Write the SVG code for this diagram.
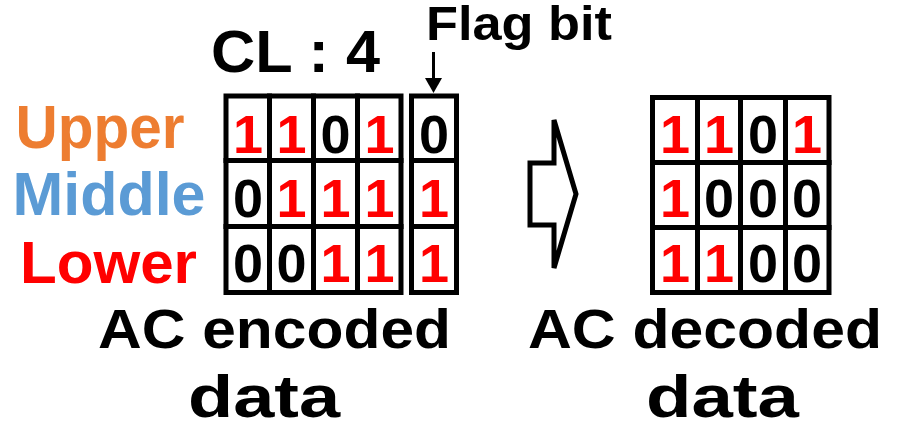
<svg xmlns="http://www.w3.org/2000/svg" width="897" height="425" viewBox="0 0 897 425">
<style>
text{font-family:"Liberation Sans",Arial,sans-serif;font-weight:bold;}
.lbl{fill:#000;}
.d{font-size:54px;text-anchor:middle;}
.one{fill:#FF0000;}
.zero{fill:#000;}
.cell{fill:#fff;stroke:#000;stroke-width:5;}
.mid{text-anchor:middle;}
</style>
<defs>
<marker id="ah" markerWidth="6" markerHeight="6" refX="5" refY="3" orient="auto" markerUnits="strokeWidth">
<path d="M0,0 L6,3 L0,6 Z" fill="#000"/>
</marker>
</defs>
<rect width="897" height="425" fill="#fff"/>

<g id="title-cl">
<text class="lbl mid" x="295.5" y="72" font-size="60" textLength="169" lengthAdjust="spacingAndGlyphs">CL : 4</text>
</g>
<g id="title-flag">
<text class="lbl mid" x="519" y="40" font-size="49" textLength="186" lengthAdjust="spacingAndGlyphs">Flag bit</text>
</g>

<g id="row-labels">
<text class="mid" x="100" y="148" font-size="62" fill="#ED7D31" textLength="169" lengthAdjust="spacingAndGlyphs">Upper</text>
<text class="mid" x="109" y="215" font-size="62" fill="#5B9BD5" textLength="193" lengthAdjust="spacingAndGlyphs">Middle</text>
<text class="mid" x="108.5" y="283" font-size="60" fill="#FF0000" textLength="177" lengthAdjust="spacingAndGlyphs">Lower</text>
</g>

<g id="encoded-grid">
<rect class="cell" x="226" y="96" width="43.5" height="64.5"/>
<rect class="cell" x="269.5" y="96" width="44" height="64.5"/>
<rect class="cell" x="313.5" y="96" width="44" height="64.5"/>
<rect class="cell" x="357.5" y="96" width="43.5" height="64.5"/>
<rect class="cell" x="226" y="160.5" width="43.5" height="66"/>
<rect class="cell" x="269.5" y="160.5" width="44" height="66"/>
<rect class="cell" x="313.5" y="160.5" width="44" height="66"/>
<rect class="cell" x="357.5" y="160.5" width="43.5" height="66"/>
<rect class="cell" x="226" y="226.5" width="43.5" height="66"/>
<rect class="cell" x="269.5" y="226.5" width="44" height="66"/>
<rect class="cell" x="313.5" y="226.5" width="44" height="66"/>
<rect class="cell" x="357.5" y="226.5" width="43.5" height="66"/>
<text class="d one" x="248" y="153">1</text>
<text class="d one" x="291.5" y="153">1</text>
<text class="d zero" x="335.5" y="153">0</text>
<text class="d one" x="379.5" y="153">1</text>
<text class="d zero" x="248" y="217">0</text>
<text class="d one" x="291.5" y="217">1</text>
<text class="d one" x="335.5" y="217">1</text>
<text class="d one" x="379.5" y="217">1</text>
<text class="d zero" x="248" y="282">0</text>
<text class="d zero" x="291.5" y="282">0</text>
<text class="d one" x="335.5" y="282">1</text>
<text class="d one" x="379.5" y="282">1</text>
</g>

<g id="flag-column">
<rect class="cell" x="411.5" y="96" width="45" height="64.5"/>
<rect class="cell" x="411.5" y="160.5" width="45" height="66"/>
<rect class="cell" x="411.5" y="226.5" width="45" height="66"/>
<text class="d zero" x="434" y="153">0</text>
<text class="d one" x="434" y="217">1</text>
<text class="d one" x="434" y="282">1</text>
</g>

<g id="block-arrow">
<path d="M530,163 H554 V120 L576,194 L554,268 V225 H530 Z" fill="#fff" stroke="#000" stroke-width="5" stroke-linejoin="miter"/>
</g>

<g id="decoded-grid">
<rect class="cell" x="652.5" y="97.5" width="45" height="65"/>
<rect class="cell" x="697.5" y="97.5" width="43" height="65"/>
<rect class="cell" x="740.5" y="97.5" width="45" height="65"/>
<rect class="cell" x="785.5" y="97.5" width="43.5" height="65"/>
<rect class="cell" x="652.5" y="162.5" width="45" height="65"/>
<rect class="cell" x="697.5" y="162.5" width="43" height="65"/>
<rect class="cell" x="740.5" y="162.5" width="45" height="65"/>
<rect class="cell" x="785.5" y="162.5" width="43.5" height="65"/>
<rect class="cell" x="652.5" y="227.5" width="45" height="65"/>
<rect class="cell" x="697.5" y="227.5" width="43" height="65"/>
<rect class="cell" x="740.5" y="227.5" width="45" height="65"/>
<rect class="cell" x="785.5" y="227.5" width="43.5" height="65"/>
<text class="d one" x="675" y="153">1</text>
<text class="d one" x="719" y="153">1</text>
<text class="d zero" x="763" y="153">0</text>
<text class="d one" x="807" y="153">1</text>
<text class="d one" x="675" y="217">1</text>
<text class="d zero" x="719" y="217">0</text>
<text class="d zero" x="763" y="217">0</text>
<text class="d zero" x="807" y="217">0</text>
<text class="d one" x="675" y="282">1</text>
<text class="d one" x="719" y="282">1</text>
<text class="d zero" x="763" y="282">0</text>
<text class="d zero" x="807" y="282">0</text>
</g>

<g id="caption-encoded">
<text class="lbl mid" x="274.5" y="348" font-size="56" textLength="353" lengthAdjust="spacingAndGlyphs">AC encoded</text>
<text class="lbl mid" x="264" y="417" font-size="60" textLength="152" lengthAdjust="spacingAndGlyphs">data</text>
</g>
<g id="caption-decoded">
<text class="lbl mid" x="705" y="348" font-size="56" textLength="354" lengthAdjust="spacingAndGlyphs">AC decoded</text>
<text class="lbl mid" x="722.5" y="417" font-size="60" textLength="153" lengthAdjust="spacingAndGlyphs">data</text>
</g>

<g id="connectors">
<line x1="433.5" y1="52" x2="433.5" y2="80" stroke="#000" stroke-width="3"/>
<path d="M425,78 L442,78 L433.5,93 Z" fill="#000"/>
</g>
</svg>
